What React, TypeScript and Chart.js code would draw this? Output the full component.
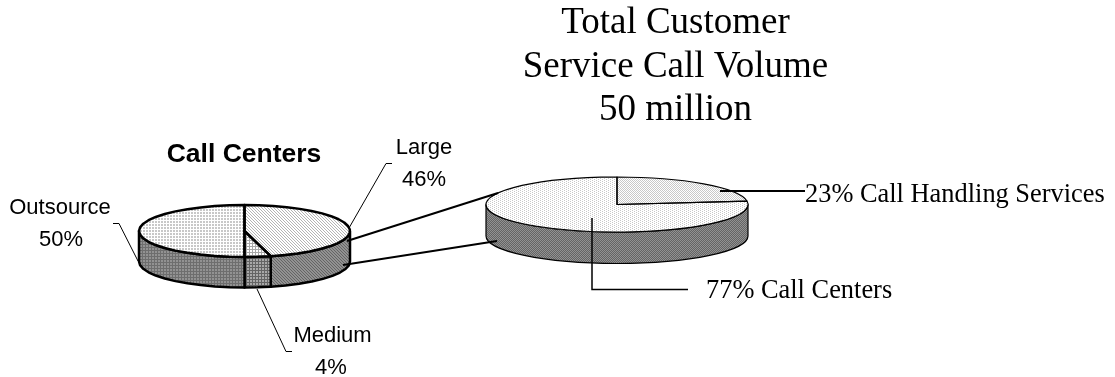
import React, { useEffect, useRef } from "react";
import Chart from "chart.js/auto";

// Share of total call volume
const volumeLabels = ["Call Handling Services", "Call Centers"];
const volumeShares = [23, 77];

// Breakdown of the call-center slice
const centerLabels = ["Large", "Medium", "Outsource"];
const centerShares = [46, 4, 50];

const titleLines = ["Total Customer", "Service Call Volume", "50 million"];
const subTitle = "Call Centers";

const WIDTH = 1115;
const HEIGHT = 377;
const SERIF = '"Liberation Serif", serif';
const SANS = '"Liberation Sans", sans-serif';

// Builds a repeating fill from a small tile: rows of characters, one per pixel.
function hatch(rows: string[], colors: Record<string, string>, cx = 0, cy = 0, k = 1) {
  const tile = document.createElement("canvas");
  tile.width = rows[0].length;
  tile.height = rows.length;
  const t = tile.getContext("2d")!;
  rows.forEach((row, y) =>
    [...row].forEach((ch, x) => {
      t.fillStyle = colors[ch];
      t.fillRect(x, y, 1, 1);
    })
  );
  const p = t.createPattern(tile, "repeat")!;
  // Cancels the vertical squash so the fill keeps square pixels on the tilted face.
  if (k !== 1) {
    p.setTransform(new DOMMatrix().translate(cx, cy).scale(1, 1 / k).translate(-cx, -cy));
  }
  return p;
}

// Traces part of an ellipse; a non-zero step draws it as straight facets.
function rim(ctx: CanvasRenderingContext2D, x: number, y: number, rx: number, ry: number, a0: number, a1: number, step: number) {
  if (!step) {
    ctx.ellipse(x, y, rx, ry, 0, a0, a1, a1 < a0);
    return;
  }
  const n = Math.max(1, Math.round(Math.abs(a1 - a0) / step));
  for (let i = 0; i <= n; i++) {
    const a = a0 + ((a1 - a0) * i) / n;
    ctx.lineTo(x + rx * Math.cos(a), y + ry * Math.sin(a));
  }
}

const tiltPlugin = {
  id: "tilt",
  beforeDatasetsDraw(chart: any, _a: any, o: any) {
    const ctx = chart.ctx as CanvasRenderingContext2D;
    const arcs = chart.getDatasetMeta(0).data as any[];
    const { x, y, outerRadius: r } = arcs[0];
    const ry = r * o.k;
    // Side wall: the front half of every slice, extruded downward.
    arcs.forEach((arc, i) => {
      const lo = Math.max(arc.startAngle, 0);
      const hi = Math.min(arc.endAngle, Math.PI);
      if (hi <= lo) return;
      ctx.beginPath();
      rim(ctx, x, y, r, ry, lo, hi, o.facet);
      rim(ctx, x, y + o.depth, r, ry, hi, lo, o.facet);
      ctx.closePath();
      ctx.fillStyle = o.wall[i];
      ctx.fill();
      ctx.strokeStyle = "#000";
      ctx.lineWidth = o.edge;
      ctx.lineJoin = "round";
      ctx.stroke();
    });
    ctx.save();
    ctx.translate(x, y);
    ctx.scale(1, o.k);
    ctx.translate(-x, -y);
  },
  afterDatasetsDraw(chart: any, _a: any, o: any) {
    const ctx = chart.ctx as CanvasRenderingContext2D;
    ctx.restore();
    const arcs = chart.getDatasetMeta(0).data as any[];
    const { x, y, outerRadius: r } = arcs[0];
    const ry = r * o.k;
    ctx.strokeStyle = "#000";
    ctx.lineWidth = o.edge;
    ctx.lineJoin = "round";
    arcs.forEach((arc) => {
      ctx.beginPath();
      ctx.moveTo(x, y);
      rim(ctx, x, y, r, ry, arc.startAngle, arc.endAngle, o.facet);
      ctx.closePath();
      ctx.stroke();
    });
  },
};

function polyline(ctx: CanvasRenderingContext2D, width: number, pts: number[][]) {
  ctx.beginPath();
  pts.forEach(([px, py], i) => (i ? ctx.lineTo(px, py) : ctx.moveTo(px, py)));
  ctx.lineWidth = width;
  ctx.strokeStyle = "#000";
  ctx.stroke();
}

function label(ctx: CanvasRenderingContext2D, text: string, font: string, px: number, py: number, align: CanvasTextAlign = "center") {
  ctx.font = font;
  ctx.textAlign = align;
  ctx.textBaseline = "alphabetic";
  ctx.fillStyle = "#000";
  ctx.fillText(text, px, py);
}

// Title, callout text and the leader lines between the two pies.
const calloutPlugin = {
  id: "callouts",
  afterDraw(chart: any) {
    const ctx = chart.ctx as CanvasRenderingContext2D;
    const sans = `22px ${SANS}`;
    const serif = `26.4px ${SERIF}`;
    ctx.save();
    ctx.lineJoin = "miter";
    polyline(ctx, 1, [[113, 223.5], [119, 223.5], [138, 261]]);
    polyline(ctx, 1, [[349, 228], [386, 163.5], [392, 163.5]]);
    polyline(ctx, 1, [[257, 289], [286, 351.5], [292, 351.5]]);
    polyline(ctx, 2, [[347, 241], [498, 193]]);
    polyline(ctx, 2, [[343, 265], [497, 241]]);
    polyline(ctx, 2, [[720, 191], [805, 191]]);
    polyline(ctx, 1.5, [[592, 218], [592, 289.5], [688, 289.5]]);

    titleLines.forEach((t, i) => label(ctx, t, `37px ${SERIF}`, 675.5, 33 + i * 43.5));
    label(ctx, subTitle, `bold 26.5px ${SANS}`, 244, 162);
    label(ctx, centerLabels[2], sans, 60, 214);
    label(ctx, `${centerShares[2]}%`, sans, 61, 246);
    label(ctx, centerLabels[0], sans, 424, 154);
    label(ctx, `${centerShares[0]}%`, sans, 424, 186);
    label(ctx, centerLabels[1], sans, 332.5, 342);
    label(ctx, `${centerShares[1]}%`, sans, 331, 374);
    label(ctx, `${volumeShares[0]}% ${volumeLabels[0]}`, serif, 805, 202, "left");
    label(ctx, `${volumeShares[1]}% ${volumeLabels[1]}`, serif, 706, 298, "left");
    ctx.restore();
  },
};

function makePie(
  canvas: HTMLCanvasElement,
  labels: string[],
  values: number[],
  fills: CanvasPattern[],
  tilt: { k: number; depth: number; edge: number; facet: number; wall: CanvasPattern[] },
  padding: { left: number; right: number; top: number; bottom: number },
  plugins: any[]
) {
  return new Chart(canvas, {
    type: "pie",
    data: { labels, datasets: [{ data: values, backgroundColor: fills, borderWidth: 0, clip: false } as any] },
    options: {
      responsive: false,
      animation: false,
      events: [],
      layout: { padding },
      plugins: { legend: { display: false }, tooltip: { enabled: false }, tilt } as any,
    },
    plugins: [tiltPlugin, ...plugins],
  });
}

export default function App() {
  const backRef = useRef<HTMLCanvasElement>(null);
  const frontRef = useRef<HTMLCanvasElement>(null);

  useEffect(() => {
    const bigK = 0.21;
    const smallK = 0.246;
    const C = { w: "#ffffff", l: "#c8c8c8", m: "#a8a8a8", g: "#929292", d: "#646464" };

    const big = makePie(
      backRef.current!,
      volumeLabels,
      volumeShares,
      [
        hatch(["lw", "wl"], C, 617, 204.5, bigK),
        hatch(["lwww", "wwlw"], C, 617, 204.5, bigK),
      ],
      { k: bigK, depth: 31.5, edge: 1.2, facet: 0, wall: [hatch(["gd", "dg"], C), hatch(["gd", "dg"], C)] },
      { left: 486, right: WIDTH - 748, top: 73.5, bottom: HEIGHT - 335.5 },
      []
    );

    const small = makePie(
      frontRef.current!,
      centerLabels,
      centerShares,
      [
        hatch(["mww", "wmw", "wwm"], { ...C, m: "#b4b4b4" }, 244.5, 231, smallK),
        hatch(["mmm", "mww", "mww"], C, 244.5, 231, smallK),
        hatch(["lwl", "www", "lwl"], C, 244.5, 231, smallK),
      ],
      {
        k: smallK,
        depth: 30.5,
        edge: 2.5,
        facet: 0.14,
        wall: [
          hatch(["dgg", "gdg", "ggd"], C),
          hatch(["ddd", "dmm", "dmm"], C),
          hatch(["gdg", "ddd", "gdg"], { ...C, d: "#6e6e6e" }),
        ],
      },
      { left: 139, right: WIDTH - 350, top: 125.5, bottom: HEIGHT - 336.5 },
      [calloutPlugin]
    );

    return () => {
      big.destroy();
      small.destroy();
    };
  }, []);

  const style: React.CSSProperties = { position: "absolute", left: 0, top: 0, display: "block" };
  return (
    <div>
      <canvas ref={backRef} width={WIDTH} height={HEIGHT} style={style} />
      <canvas ref={frontRef} width={WIDTH} height={HEIGHT} style={style} />
    </div>
  );
}
